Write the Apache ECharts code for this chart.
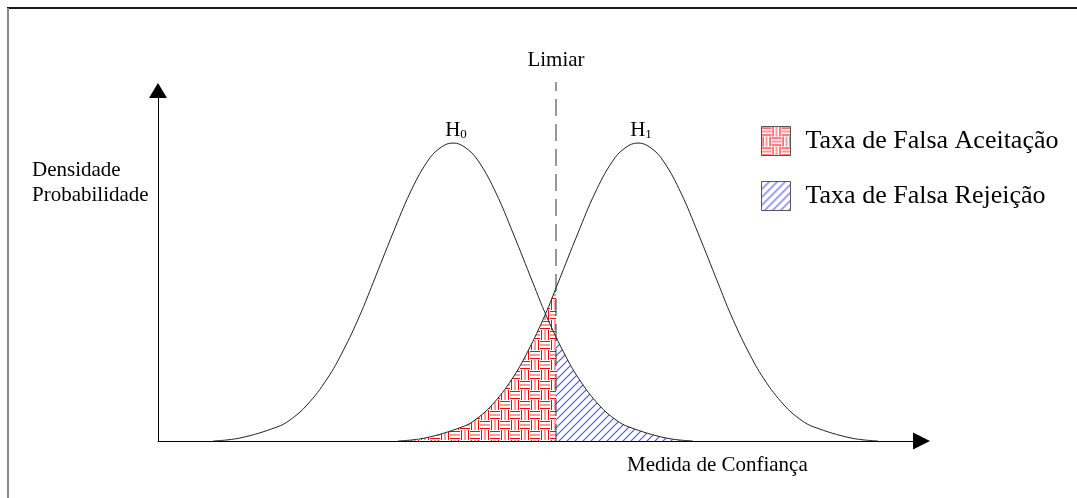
<!DOCTYPE html>
<html><head><meta charset="utf-8">
<script src="https://cdn.jsdelivr.net/npm/echarts@6/dist/echarts.min.js"></script>
<style>html,body{margin:0;padding:0;background:#fff}#c{width:1077px;height:498px}</style>
</head><body><div id="c"></div>
<script>
// Values (x: confidence measure units, y: density units)
const h0X = [55,82,119,132,149,169,185,202,215,235,252,269,282,295,308,321,338,355,375,388,405,421,441,458,471,508,535];
const h0Y = [0,3,14,21,36,62,90,126,158,208,248,279,293,298,293,279,248,208,158,126,90,62,36,21,14,3,0];
const h1X = [240,267,304,317,334,354,370,387,400,420,437,454,467,480,493,506,523,540,560,573,590,606,626,643,656,693,720];
const h1Y = [0,3,14,21,36,62,90,126,158,208,248,279,293,298,293,279,248,208,158,126,90,62,36,21,14,3,0];
const threshold = 398;
const thresholdTop = 359;
const h1AtThreshold = 155;
const h0AtThreshold = 105;
const labelX = [398, 298, 483];
const labelY = [381, 311, 311];
const labelText = ['Limiar', '{h|H}{s|0}', '{h|H}{s|1}'];
const legendNames = ['Taxa de Falsa Aceitação', 'Taxa de Falsa Rejeição'];
const axisTitleX = 'Medida de Confiança';
const axisTitleY = 'Densidade\nProbabilidade';

function zip(xs, ys) { return xs.map((x, i) => [x, ys[i]]); }
const h0 = zip(h0X, h0Y);
const h1 = zip(h1X, h1Y);
const falseAccept = h1.filter(p => p[0] < threshold).concat([[threshold, h1AtThreshold]]);
const falseReject = [[threshold, h0AtThreshold]].concat(h0.filter(p => p[0] > threshold));

function basket() {
  const B = 10;
  const c = document.createElement('canvas'); c.width = 2 * B; c.height = 2 * B;
  const g = c.getContext('2d');
  g.fillStyle = '#fff'; g.fillRect(0, 0, 2 * B, 2 * B);
  const red = '#ff0000', pink = '#ff9a9a';
  function hB(ox, oy) { g.fillStyle = red; g.fillRect(ox, oy + 1, B, 1); g.fillRect(ox, oy + 8, B, 1); g.fillStyle = pink; g.fillRect(ox, oy + 4, B, 2); }
  function vB(ox, oy) { g.fillStyle = red; g.fillRect(ox + 1, oy, 1, B); g.fillRect(ox + 8, oy, 1, B); g.fillStyle = pink; g.fillRect(ox + 4, oy, 2, B); }
  hB(0, 0); vB(B, 0); vB(0, B); hB(B, B);
  return c;
}
function hatch() {
  const N = 8;
  const c = document.createElement('canvas'); c.width = N; c.height = N;
  const g = c.getContext('2d');
  g.fillStyle = '#ffffff'; g.fillRect(0, 0, N, N);
  g.strokeStyle = '#5050ff'; g.lineWidth = 1.15; g.lineCap = 'square';
  g.beginPath();
  g.moveTo(-2, N + 2); g.lineTo(N + 2, -2);
  g.moveTo(-2, 2); g.lineTo(2, -2);
  g.moveTo(N - 2, N + 2); g.lineTo(N + 2, N - 2);
  g.stroke();
  return c;
}
const FONT = 'Liberation Serif';
const redCanvas = basket();
const blueCanvas = hatch();
function redPat() { return { image: redCanvas, repeat: 'repeat' }; }
function bluePat() { return { image: blueCanvas, repeat: 'repeat' }; }

const chart = echarts.init(document.getElementById('c'), null, { renderer: 'canvas' });
chart.setOption({
  animation: false,
  backgroundColor: '#fff',
  grid: { left: 158, right: 155.5, top: 90.5, bottom: 57 },
  xAxis: {
    type: 'value', min: 0, max: 763.5,
    axisLine: { lineStyle: { color: '#000', width: 1 }, symbol: ['none', 'triangle'], symbolSize: [17, 17] },
    axisTick: { show: false }, axisLabel: { show: false }, splitLine: { show: false }
  },
  yAxis: {
    type: 'value', min: 0, max: 350.5,
    axisLine: { show: true, lineStyle: { color: '#000', width: 1 }, symbol: ['none', 'triangle'], symbolSize: [18, 15] },
    axisTick: { show: false }, axisLabel: { show: false }, splitLine: { show: false }
  },
  legend: {
    orient: 'vertical', left: 761, top: 126, padding: 0, itemWidth: 29, itemHeight: 29, itemGap: 25,
    icon: 'rect', selectedMode: false,
    textStyle: { fontFamily: FONT, fontSize: 26, color: '#000', padding: [0, 0, 0, 10] },
    data: [
      { name: legendNames[0], itemStyle: { color: redPat(), borderColor: '#555', borderWidth: 1 } },
      { name: legendNames[1], itemStyle: { color: bluePat(), borderColor: '#555', borderWidth: 1 } }
    ]
  },
  series: [
    { name: legendNames[0], type: 'line', data: falseAccept, smooth: 0.4, symbol: 'none',
      lineStyle: { width: 0.01, color: '#ff0000' }, itemStyle: { color: '#ff0000' }, areaStyle: { color: redPat(), opacity: 1 }, z: 1 },
    { name: legendNames[1], type: 'line', data: falseReject, smooth: 0.4, symbol: 'none',
      lineStyle: { width: 0.01, color: '#5050ff' }, itemStyle: { color: '#5050ff' }, areaStyle: { color: bluePat(), opacity: 1 }, z: 1 },
    { name: 'H0', type: 'line', data: h0, smooth: 0.4, symbol: 'none', lineStyle: { color: '#222', width: 1 }, z: 3 },
    { name: 'H1', type: 'line', data: h1, smooth: 0.4, symbol: 'none', lineStyle: { color: '#222', width: 1 }, z: 3 },
    { name: 'Limiar', type: 'line', data: [[threshold, 0], [threshold, thresholdTop]], symbol: 'none', clip: false,
      lineStyle: { color: '#333', width: 1, type: [17, 8] }, z: 4 },
    { name: 'labels', type: 'scatter', clip: false, symbolSize: 0, z: 5,
      itemStyle: { opacity: 1, color: '#000' },
      data: labelX.map((x, i) => ({ value: [x, labelY[i]], label: { formatter: labelText[i] } })),
      label: { show: true, position: 'inside', color: '#000', fontFamily: FONT, fontSize: 21, opacity: 1,
        textBorderWidth: 0, textShadowBlur: 0,
        rich: {
          h: { fontFamily: FONT, fontSize: 21, color: '#000', lineHeight: 22, verticalAlign: 'bottom', textBorderWidth: 0 },
          s: { fontFamily: FONT, fontSize: 13, color: '#000', lineHeight: 22, verticalAlign: 'bottom', textBorderWidth: 0 }
        } } }
  ],
  graphic: [
    { type: 'line', shape: { x1: 7, y1: 8, x2: 1077, y2: 8 }, style: { stroke: '#1a1a1a', lineWidth: 2 }, silent: true },
    { type: 'line', shape: { x1: 8, y1: 8, x2: 8, y2: 498 }, style: { stroke: '#888', lineWidth: 2 }, silent: true },
    { type: 'text', left: 32, top: 158, style: { text: axisTitleY, font: '21px "' + FONT + '"', fill: '#000', lineHeight: 25 }, silent: true },
    { type: 'text', left: 627, top: 453, style: { text: axisTitleX, font: '21px "' + FONT + '"', fill: '#000', lineHeight: 25 }, silent: true }
  ]
});
</script></body></html>
